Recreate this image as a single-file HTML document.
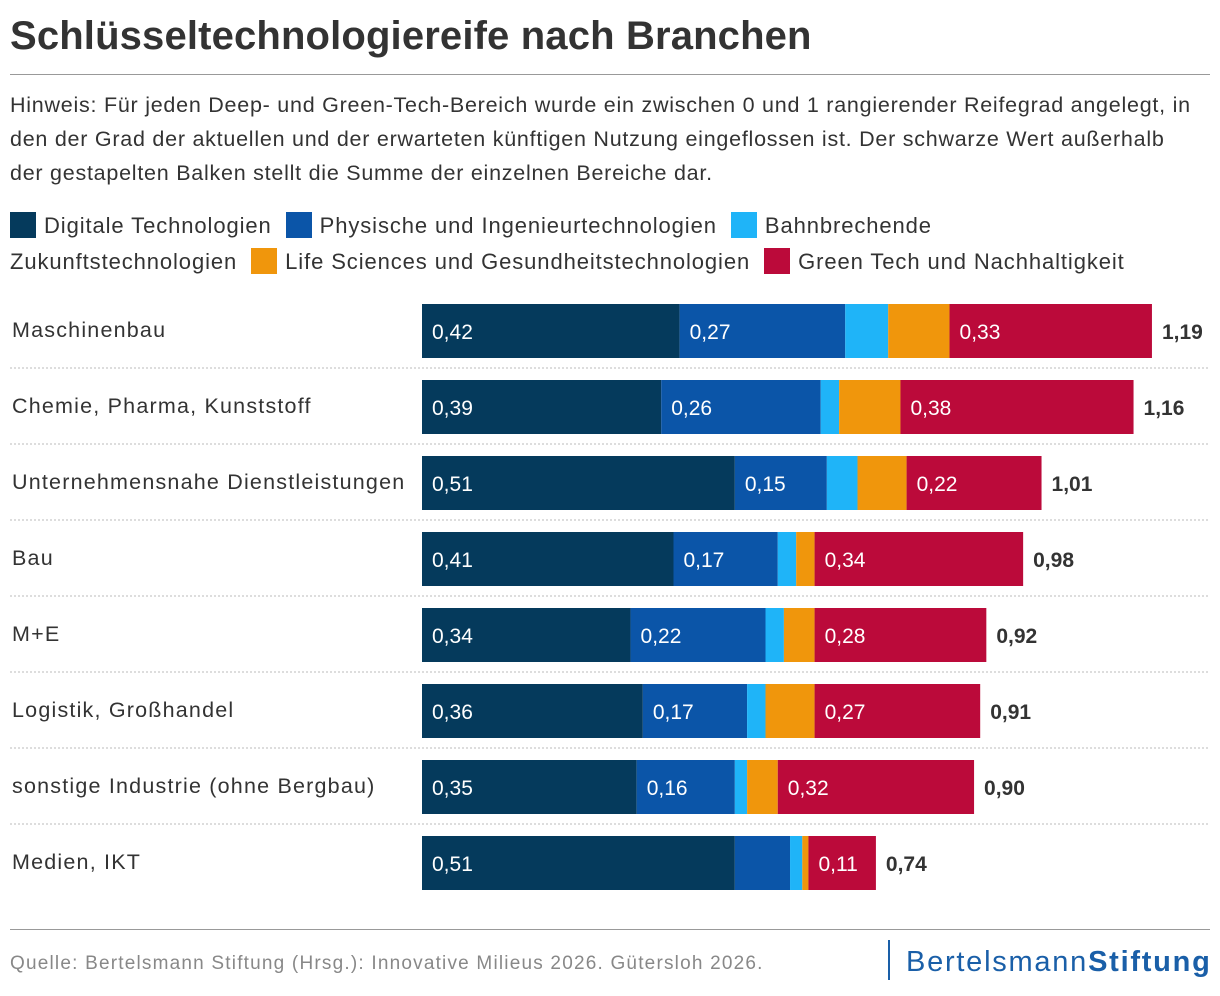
<!DOCTYPE html>
<html><head><meta charset="utf-8"><style>
body{margin:0;width:1220px;height:996px;background:#fff;font-family:"Liberation Sans",sans-serif;color:#333;position:relative;overflow:hidden}
.abs{position:absolute}
#title{left:10px;top:14px;font-size:40px;font-weight:bold;color:#333;letter-spacing:0.15px;white-space:nowrap}
#rule{left:10px;top:74px;width:1200px;height:1px;background:#999}
#note{left:10px;top:88px;width:1210px;font-size:21.5px;line-height:34px;color:#333;white-space:nowrap;letter-spacing:0.75px}
#legend{left:10px;top:208px;width:1210px;font-size:22px;line-height:36px;white-space:nowrap;letter-spacing:0.9px}
.lg{display:inline-block;margin-right:14px;white-space:nowrap}
.sw{display:inline-block;width:26px;height:26px;vertical-align:-5px;margin-right:8px}
#foot{left:10px;top:929px;width:1200px;height:1px;background:#999}
#src{left:10px;top:953px;font-size:19px;color:#888;letter-spacing:1.2px}
#logo{left:888px;top:940px;height:40px;border-left:2px solid #1a5fa8;padding-left:16px;font-size:29px;color:#1a5fa8;line-height:44px;letter-spacing:1.75px;white-space:nowrap}
</style></head><body>
<div class="abs" id="title">Schlüsseltechnologiereife nach Branchen</div>
<div class="abs" id="rule"></div>
<div class="abs" id="note">Hinweis: Für jeden Deep- und Green-Tech-Bereich wurde ein zwischen 0 und 1 rangierender Reifegrad angelegt, in<br>den der Grad der aktuellen und der erwarteten künftigen Nutzung eingeflossen ist. Der schwarze Wert außerhalb<br>der gestapelten Balken stellt die Summe der einzelnen Bereiche dar.</div>
<div class="abs" id="legend">
<span class="lg"><span class="sw" style="background:#053a5c"></span>Digitale Technologien</span><span class="lg"><span class="sw" style="background:#0b55a8"></span>Physische und Ingenieurtechnologien</span><span><span class="sw" style="background:#1fb4f8"></span>Bahnbrechende<br>Zukunftstechnologien</span><span class="lg" style="margin-left:14px"><span class="sw" style="background:#f0960c"></span>Life Sciences und Gesundheitstechnologien</span><span class="lg"><span class="sw" style="background:#bb0a3a"></span>Green Tech und Nachhaltigkeit</span>
</div>
<svg class="abs" style="left:0;top:0" width="1220" height="996" id="chart"></svg>
<div class="abs" id="foot"></div>
<div class="abs" id="src">Quelle: Bertelsmann Stiftung (Hrsg.): Innovative Milieus 2026. Gütersloh 2026.</div>
<div class="abs" id="logo">Bertelsmann<b>Stiftung</b></div>
<script>
const categories=["Maschinenbau","Chemie, Pharma, Kunststoff","Unternehmensnahe Dienstleistungen","Bau","M+E","Logistik, Großhandel","sonstige Industrie (ohne Bergbau)","Medien, IKT"];
const digital=[0.42,0.39,0.51,0.41,0.34,0.36,0.35,0.51];
const physisch=[0.27,0.26,0.15,0.17,0.22,0.17,0.16,0.09];
const bahn=[0.07,0.03,0.05,0.03,0.03,0.03,0.02,0.02];
const life=[0.10,0.10,0.08,0.03,0.05,0.08,0.05,0.01];
const green=[0.33,0.38,0.22,0.34,0.28,0.27,0.32,0.11];
const totals=["1,19","1,16","1,01","0,98","0,92","0,91","0,90","0,74"];
const series=[digital,physisch,bahn,life,green];
const colors=["#053a5c","#0b55a8","#1fb4f8","#f0960c","#bb0a3a"];
const labeled=[true,true,false,false,true];
const svg=document.getElementById('chart');
const NS='http://www.w3.org/2000/svg';
const x0=422,scale=613.4;
const xs=v=>v*scale;
const yRow=i=>304+i*76;
function mk(t,a){const e=document.createElementNS(NS,t);for(const k in a)e.setAttribute(k,a[k]);svg.appendChild(e);return e;}
categories.forEach((c,i)=>{
  const y=yRow(i);
  const t=mk('text',{x:12,y:y+33,'font-size':21.5,fill:'#333','letter-spacing':'1.2'});
  
  
  t.textContent=c;
  if(i<categories.length-1){
    const l=mk('line',{x1:10,x2:1210,y1:y+64,y2:y+64,stroke:'#bbb','stroke-dasharray':'2,2'});
    
    
  }
  let x=x0;
  series.forEach((s,k)=>{
    const w=xs(s[i]);
    const r=mk('rect',{x:x,y:y,width:w,height:54,fill:colors[k]});
    
    
    if(labeled[k]&&s[i]>=0.105){
      const tl=mk('text',{x:x+10,y:y+35,'font-size':21,fill:'#fff'});
      
      
      tl.textContent=s[i].toFixed(2).replace('.',',');
    }
    x+=w;
  });
  const tt=mk('text',{x:x+10,y:y+35,'font-size':21,'font-weight':'bold',fill:'#333'});
  
  
  tt.textContent=totals[i];
});
</script>
</body></html>
